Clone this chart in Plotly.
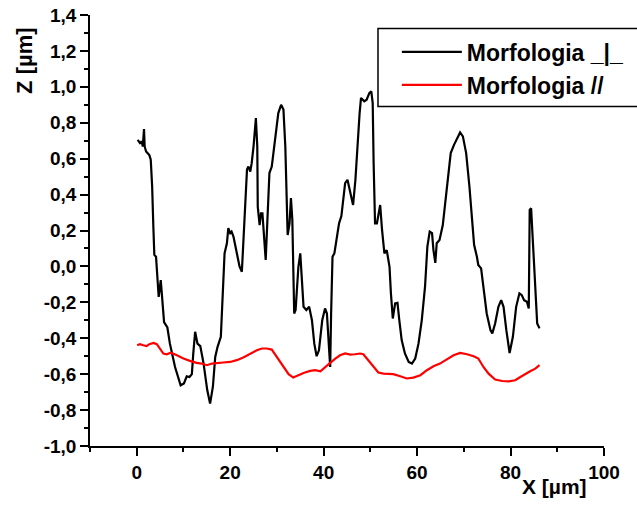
import plotly.graph_objects as go

# Surface profiles: lateral position X (µm) and height Z (µm)
perp_x = [0.2, 0.7, 1.07, 1.3, 1.56, 1.7, 2.0, 2.7, 3.0, 3.3, 3.56, 3.77, 4.13, 4.7, 5.14,
          5.4, 5.85, 6.56, 7.1, 8.2, 9.4, 10.1, 10.7, 11.3, 11.8, 12.1, 12.5, 13.0, 13.6,
          14.3, 15.1, 15.7, 16.3, 16.8, 17.3, 18.0, 18.4, 18.8, 19.3, 19.6, 20.0, 20.3,
          20.7, 21.4, 22.0, 22.5, 23.0, 23.3, 23.6, 23.9, 24.3, 24.6, 25.0, 25.5, 25.8,
          25.9, 26.3, 26.6, 26.9, 27.6, 28.0, 28.4, 28.9, 29.6, 30.3, 30.9, 31.4, 31.8,
          32.1, 32.3, 32.7, 33.0, 33.3, 33.7, 34.0, 34.6, 35.0, 35.3, 35.7, 36.3, 36.9,
          37.5, 38.0, 38.5, 39.0, 39.7, 40.3, 40.7, 41.0, 41.4, 41.6, 41.9, 42.3, 42.8,
          43.3, 43.8, 44.2, 44.6, 45.1, 45.7, 46.3, 46.8, 47.2, 47.7, 48.0, 48.7, 49.2,
          49.8, 50.2, 50.5, 50.7, 51.0, 51.4, 51.8, 52.1, 52.5, 53.0, 53.5, 54.1, 54.4,
          54.8, 55.3, 55.8, 56.2, 56.7, 57.4, 58.2, 58.9, 59.6, 60.3, 61.0, 61.7, 62.2,
          62.7, 63.2, 63.5, 63.9, 64.2, 64.8, 65.5, 66.2, 66.7, 67.2, 67.9, 68.7, 69.2,
          69.8, 70.5, 71.2, 71.7, 72.2, 72.8, 73.1, 73.7, 74.2, 74.9, 75.7, 76.1, 76.7,
          77.4, 78.0, 78.5, 79.1, 79.8, 80.5, 81.2, 81.9, 82.4, 82.9, 83.5, 83.9, 84.1,
          84.4, 84.6, 85.1, 85.7, 86.2]
perp_z = [0.705, 0.687, 0.696, 0.668, 0.765, 0.668, 0.64, 0.62, 0.594, 0.445, 0.22, 0.064,
          0.054, -0.17, -0.076, -0.15, -0.31, -0.34, -0.43, -0.56, -0.662, -0.652, -0.612,
          -0.616, -0.60, -0.485, -0.364, -0.43, -0.444, -0.54, -0.69, -0.764, -0.67, -0.504,
          -0.448, -0.392, -0.113, 0.073, 0.129, 0.213, 0.185, 0.194, 0.166, 0.08, 0.0, -0.03,
          0.26, 0.41, 0.54, 0.556, 0.528, 0.575, 0.668, 0.826, 0.668, 0.333, 0.23, 0.296,
          0.296, 0.036, 0.296, 0.52, 0.556, 0.705, 0.854, 0.90, 0.873, 0.668, 0.296, 0.175,
          0.24, 0.38, 0.26, -0.262, -0.243, -0.002, 0.073, -0.076, -0.225, -0.243, -0.225,
          -0.30, -0.43, -0.50, -0.467, -0.30, -0.234, -0.262, -0.41, -0.56, -0.262, 0.054,
          0.073, 0.166, 0.24, 0.28, 0.37, 0.464, 0.482, 0.408, 0.342, 0.482, 0.668, 0.854,
          0.938, 0.919, 0.928, 0.966, 0.975, 0.91, 0.575, 0.24, 0.24, 0.315, 0.342, 0.203,
          0.073, 0.091, -0.002, -0.15, -0.29, -0.206, -0.203, -0.30, -0.41, -0.485, -0.532,
          -0.541, -0.513, -0.43, -0.30, -0.113, 0.11, 0.194, 0.185, 0.091, 0.02, 0.129,
          0.147, 0.23, 0.39, 0.538, 0.631, 0.677, 0.724, 0.746, 0.724, 0.631, 0.445, 0.26,
          0.12, 0.054, 0.008, -0.011, -0.13, -0.262, -0.355, -0.373, -0.318, -0.225, -0.188,
          -0.225, -0.355, -0.482, -0.392, -0.225, -0.15, -0.16, -0.188, -0.197, -0.234,
          0.315, 0.324, 0.203, -0.02, -0.318, -0.345]

par_x = [0.1, 0.7, 1.4, 2.1, 2.7, 3.6, 4.3, 5.0, 5.7, 6.4, 7.3, 8.6, 10.0, 11.4, 12.8, 13.9,
         15.0, 16.1, 17.1, 18.5, 20.0, 21.4, 22.8, 24.3, 25.7, 26.8, 27.8, 28.9, 30.0, 31.4,
         32.5, 33.5, 34.6, 35.7, 37.1, 38.2, 39.3, 40.3, 41.4, 42.5, 43.5, 44.6, 45.7, 46.7,
         47.8, 48.5, 49.6, 50.7, 51.7, 52.8, 53.9, 54.9, 56.4, 57.8, 59.2, 60.7, 62.1, 63.5,
         64.9, 66.4, 67.8, 69.2, 70.7, 72.1, 73.1, 74.2, 75.3, 76.7, 78.2, 79.6, 81.0, 82.1,
         83.2, 84.2, 85.3, 86.2]
par_z = [-0.439, -0.433, -0.439, -0.444, -0.433, -0.426, -0.433, -0.463, -0.485, -0.489,
         -0.48, -0.495, -0.513, -0.526, -0.537, -0.541, -0.55, -0.541, -0.537, -0.535, -0.532,
         -0.522, -0.507, -0.485, -0.467, -0.457, -0.457, -0.463, -0.504, -0.56, -0.60, -0.619,
         -0.606, -0.593, -0.582, -0.578, -0.584, -0.56, -0.537, -0.513, -0.495, -0.485, -0.491,
         -0.489, -0.485, -0.489, -0.522, -0.56, -0.591, -0.597, -0.597, -0.60, -0.612, -0.624,
         -0.619, -0.606, -0.578, -0.556, -0.541, -0.519, -0.495, -0.482, -0.489, -0.50, -0.513,
         -0.56, -0.597, -0.63, -0.638, -0.64, -0.634, -0.616, -0.597, -0.584, -0.569, -0.55]

series_names = ["Morfologia _|_", "Morfologia //"]
series_colors = ["#000000", "#ff0000"]

z_tick_vals = [-1.0, -0.8, -0.6, -0.4, -0.2, 0.0, 0.2, 0.4, 0.6, 0.8, 1.0, 1.2, 1.4]
z_tick_text = ["-1,0", "-0,8", "-0,6", "-0,4", "-0,2", "0,0", "0,2", "0,4", "0,6", "0,8",
               "1,0", "1,2", "1,4"]
x_tick_vals = [0, 20, 40, 60, 80, 100]
x_tick_text = ["0", "20", "40", "60", "80", "100"]

FONT = "Arial"

fig = go.Figure()
for xs, zs, name, color in [(perp_x, perp_z, series_names[0], series_colors[0]),
                            (par_x, par_z, series_names[1], series_colors[1])]:
    fig.add_trace(go.Scatter(x=xs, y=zs, mode="lines", name="<b>" + name + "</b>",
                             line=dict(color=color, width=2.2)))

axis_common = dict(
    showline=True, linecolor="black", linewidth=1.5, mirror=False,
    showgrid=False, zeroline=False,
    ticks="outside", ticklen=8, tickwidth=1.5, tickcolor="black",
    tickfont=dict(family=FONT, size=19, color="black"),
)

fig.update_xaxes(range=[-10, 100], tickmode="array", tickvals=x_tick_vals,
                 ticktext=["<b>" + t + "</b>" for t in x_tick_text],
                 minor=dict(ticks="outside", dtick=10, ticklen=4, tickwidth=1.5,
                            tickcolor="black"),
                 **axis_common)
fig.update_yaxes(range=[-1.0, 1.4], tickmode="array", tickvals=z_tick_vals,
                 ticktext=["<b>" + t + "</b>" for t in z_tick_text],
                 minor=dict(ticks="outside", dtick=0.1, ticklen=4, tickwidth=1.5,
                            tickcolor="black"),
                 **axis_common)

# Axis titles placed at the ends of the axes
fig.add_annotation(text="<b>Z [µm]</b>", xref="paper", yref="paper", x=-0.128, y=0.894,
                   xanchor="center", yanchor="middle",
                   showarrow=False, textangle=-90,
                   font=dict(family=FONT, size=22, color="black"))
fig.add_annotation(text="<b>X [µm]</b>", xref="paper", yref="paper", x=0.903, y=-0.095,
                   xanchor="center", yanchor="middle",
                   showarrow=False,
                   font=dict(family=FONT, size=21, color="black"))

# Legend frame
fig.add_shape(type="rect", xref="paper", yref="paper", x0=0.5603, x1=1.1,
              y0=0.7875, y1=0.9686, line=dict(color="black", width=1.5),
              fillcolor="rgba(0,0,0,0)")

fig.update_layout(
    width=637, height=508,
    margin=dict(l=90, r=33, t=15, b=62, autoexpand=False),
    paper_bgcolor="white", plot_bgcolor="white",
    legend=dict(x=0.597, y=0.964, xanchor="left", yanchor="top",
                bgcolor="rgba(0,0,0,0)", borderwidth=0, itemwidth=60,
                tracegroupgap=0,
                font=dict(family=FONT, size=23, color="black")),
)

fig.write_html("out.html")
